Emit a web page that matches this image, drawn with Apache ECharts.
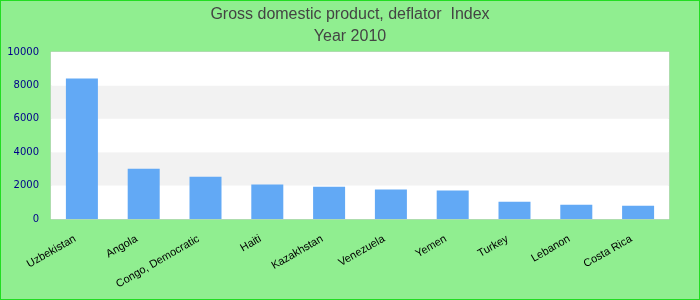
<!DOCTYPE html>
<html><head><meta charset="utf-8">
<script src="https://cdn.jsdelivr.net/npm/echarts@6/dist/echarts.min.js"></script>
<style>html,body{margin:0;padding:0;}#c{width:700px;height:300px;box-sizing:border-box;border:1px solid #22dd22;}</style>
</head><body><div id="c"></div>
<script>
const categories = ["Uzbekistan","Angola","Congo, Democratic","Haiti","Kazakhstan","Venezuela","Yemen","Turkey","Lebanon","Costa Rica"];
const values = [8420, 3010, 2530, 2060, 1930, 1760, 1700, 1040, 860, 800];
const titleLines = ["Gross domestic product, deflator  Index", "Year 2010"];

const chart = echarts.init(document.getElementById('c'));
chart.setOption({
  backgroundColor: '#90EE90',
  animation: false,
  title: {
    text: titleLines.join('\n'),
    left: 'center', top: -2,
    textStyle: {fontFamily: 'Liberation Sans', fontSize: 16, fontWeight: 'normal', color: '#444', lineHeight: 22}
  },
  grid: {left: 50, right: 30, top: 51, bottom: 80, show: true, backgroundColor: '#fff', borderColor: '#ccc', borderWidth: 1},
  xAxis: {
    type: 'category', data: categories,
    axisLine: {show: false}, axisTick: {show: false},
    axisLabel: {rotate: 30, fontSize: 11, color: '#000', fontFamily: 'Liberation Sans', interval: 0, margin: 15, padding: [0, 8, 0, 0]}
  },
  yAxis: {
    type: 'value', min: 0, max: 10000, interval: 2000,
    axisLine: {show: false}, axisTick: {show: false},
    splitLine: {show: false},
    splitArea: {show: true, areaStyle: {color: ['#ffffff', '#f2f2f2']}},
    axisLabel: {fontSize: 10, color: '#00008B', fontFamily: 'DejaVu Sans', margin: 12, formatter: v => String(v)}
  },
  series: [{type: 'bar', data: values, barWidth: 32, itemStyle: {color: '#62a9f5'}}]
});
</script></body></html>
